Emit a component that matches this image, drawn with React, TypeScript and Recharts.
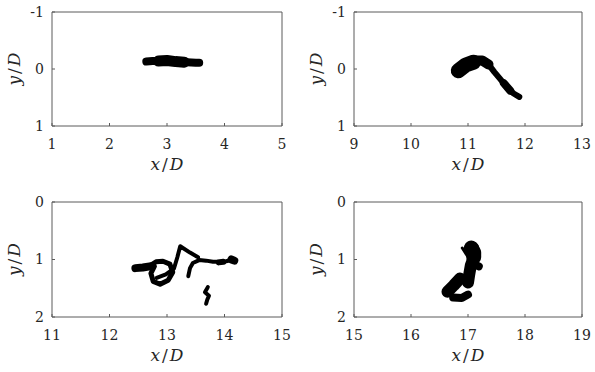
import React from "react";
import { ComposedChart, Line, XAxis, YAxis } from "recharts";

type Pt = { x: number; y: number };

// tick values
const xTicksA = [1, 2, 3, 4, 5];
const xTicksB = [9, 10, 11, 12, 13];
const xTicksC = [11, 12, 13, 14, 15];
const xTicksD = [15, 16, 17, 18, 19];
const yTicksTop = [-1, 0, 1];
const yTicksBottom = [0, 1, 2];

// panel A (x/D 1..5) - elongated blob
const aBody: Pt[] = [
  { x: 2.64, y: -0.13 }, { x: 2.75, y: -0.14 }, { x: 2.9, y: -0.14 }, { x: 3.05, y: -0.13 },
  { x: 3.2, y: -0.12 }, { x: 3.35, y: -0.12 }, { x: 3.5, y: -0.11 }, { x: 3.56, y: -0.11 },
];
const aCore: Pt[] = [
  { x: 2.85, y: -0.14 }, { x: 3.0, y: -0.15 }, { x: 3.15, y: -0.13 }, { x: 3.3, y: -0.12 },
];

// panel B (x/D 9..13) - bent streak
const bHead: Pt[] = [
  { x: 10.83, y: 0.03 }, { x: 10.96, y: -0.07 }, { x: 11.1, y: -0.12 },
];
const bNeck: Pt[] = [
  { x: 10.97, y: -0.1 }, { x: 11.1, y: -0.15 }, { x: 11.25, y: -0.15 }, { x: 11.36, y: -0.08 },
];
const bTail: Pt[] = [
  { x: 11.36, y: -0.08 }, { x: 11.46, y: 0.05 }, { x: 11.56, y: 0.17 }, { x: 11.64, y: 0.27 },
  { x: 11.72, y: 0.36 }, { x: 11.8, y: 0.43 }, { x: 11.9, y: 0.49 },
];
const bBulge: Pt[] = [
  { x: 11.63, y: 0.25 }, { x: 11.74, y: 0.38 },
];

// panel C (x/D 11..15) - tangled track
const cTail: Pt[] = [
  { x: 12.45, y: 1.15 }, { x: 12.58, y: 1.14 }, { x: 12.7, y: 1.12 },
];
const cLoop: Pt[] = [
  { x: 12.7, y: 1.11 }, { x: 12.81, y: 1.04 }, { x: 12.93, y: 1.03 }, { x: 13.05, y: 1.08 },
  { x: 13.1, y: 1.22 }, { x: 13.02, y: 1.36 }, { x: 12.88, y: 1.43 }, { x: 12.76, y: 1.38 },
  { x: 12.72, y: 1.24 }, { x: 12.78, y: 1.12 },
];
const cRise: Pt[] = [
  { x: 12.82, y: 1.32 }, { x: 12.98, y: 1.26 }, { x: 13.12, y: 1.16 }, { x: 13.18, y: 0.96 },
  { x: 13.23, y: 0.77 }, { x: 13.4, y: 0.88 }, { x: 13.54, y: 0.96 },
];
const cHook: Pt[] = [
  { x: 13.37, y: 1.29 }, { x: 13.4, y: 1.15 }, { x: 13.45, y: 1.06 }, { x: 13.56, y: 1.01 },
  { x: 13.68, y: 1.02 }, { x: 13.8, y: 1.04 }, { x: 13.92, y: 1.04 }, { x: 14.03, y: 1.03 },
  { x: 14.15, y: 1.0 },
];
const cKnots: Pt[] = [
  { x: 13.9, y: 1.05 }, { x: 13.98, y: 1.04 },
];
const cEnd: Pt[] = [
  { x: 14.12, y: 1.0 }, { x: 14.17, y: 1.02 },
];
const cCurl: Pt[] = [
  { x: 13.71, y: 1.48 }, { x: 13.66, y: 1.57 }, { x: 13.73, y: 1.63 }, { x: 13.7, y: 1.7 },
  { x: 13.68, y: 1.77 },
];

// panel D (x/D 15..19) - compact cluster
const dTop: Pt[] = [
  { x: 17.06, y: 0.8 }, { x: 17.1, y: 0.88 }, { x: 17.1, y: 0.96 },
];
const dSpine: Pt[] = [
  { x: 17.09, y: 0.8 }, { x: 17.11, y: 0.94 }, { x: 17.05, y: 1.1 }, { x: 17.02, y: 1.27 },
  { x: 17.0, y: 1.4 },
];
const dSliver: Pt[] = [
  { x: 16.9, y: 0.8 }, { x: 16.99, y: 0.94 },
];
const dBulge: Pt[] = [
  { x: 17.1, y: 1.08 }, { x: 17.19, y: 1.12 },
];
const dLeft: Pt[] = [
  { x: 16.86, y: 1.33 }, { x: 16.75, y: 1.45 }, { x: 16.64, y: 1.56 },
];
const dBottom: Pt[] = [
  { x: 16.74, y: 1.66 }, { x: 16.89, y: 1.67 }, { x: 17.0, y: 1.61 },
];

const FONT = "DejaVu Serif";
const AXIS = "#5a5a5a";
const TXT = "#262626";

const xTitle = (props: any) => {
  const vb = props.viewBox || {};
  return (
    <text x={vb.x + vb.width / 2} y={vb.y + 44} textAnchor="middle" fontFamily={FONT} fontSize={17} fill={TXT}>
      <tspan fontStyle="italic">x</tspan>
      <tspan dx={2}>/</tspan>
      <tspan dx={2} fontStyle="italic">D</tspan>
    </text>
  );
};

const yTitle = (props: any) => {
  const vb = props.viewBox || {};
  const cx = vb.x + vb.width - 32;
  const cy = vb.y + vb.height / 2;
  return (
    <text x={cx} y={cy} textAnchor="middle" transform={`rotate(-90, ${cx}, ${cy})`} fontFamily={FONT} fontSize={17} fill={TXT}>
      <tspan fontStyle="italic">y</tspan>
      <tspan dx={2}>/</tspan>
      <tspan dx={2} fontStyle="italic">D</tspan>
    </text>
  );
};

type Stroke = { data: Pt[]; w: number };

const Panel = (p: {
  left: number; top: number; width: number; padL: number; padR: number; padT: number; padB: number;
  xTicks: number[]; yTicks: number[]; strokes: Stroke[];
}) => {
  const tickStyle = { fontSize: 14, fill: TXT, fontFamily: FONT };
  const xDom = [p.xTicks[0], p.xTicks[p.xTicks.length - 1]];
  const yDom = [p.yTicks[0], p.yTicks[p.yTicks.length - 1]];
  return (
    <div style={{ position: "absolute", left: p.left, top: p.top }}>
      <ComposedChart width={p.width} height={186} margin={{ top: 0, right: 0, bottom: 0, left: 0 }}>
        <XAxis xAxisId="b" type="number" dataKey="x" domain={xDom} ticks={p.xTicks} interval={0}
          orientation="bottom" height={p.padB} tickSize={-3} tickMargin={16}
          axisLine={{ stroke: AXIS }} tickLine={{ stroke: AXIS }} tick={tickStyle}
          label={{ content: xTitle }} />
        <XAxis xAxisId="t" type="number" dataKey="x" domain={xDom} ticks={p.xTicks} interval={0}
          orientation="top" height={p.padT} tickSize={-3} tickFormatter={() => ""}
          axisLine={{ stroke: AXIS }} tickLine={{ stroke: AXIS }} />
        <YAxis yAxisId="l" type="number" dataKey="y" domain={yDom} ticks={p.yTicks} interval={0} reversed
          orientation="left" width={p.padL} tickSize={-3} tickMargin={11}
          axisLine={{ stroke: AXIS }} tickLine={{ stroke: AXIS }} tick={tickStyle}
          label={{ content: yTitle }} />
        <YAxis yAxisId="r" type="number" dataKey="y" domain={yDom} ticks={p.yTicks} interval={0} reversed
          orientation="right" width={p.padR} tickSize={-3} tickFormatter={() => ""}
          axisLine={{ stroke: AXIS }} tickLine={{ stroke: AXIS }} />
        {p.strokes.map((s, i) => (
          <Line key={i} xAxisId="b" yAxisId="l" data={s.data} dataKey="y" type="linear"
            stroke="#000" strokeWidth={s.w} strokeLinecap="round" strokeLinejoin="round"
            dot={false} activeDot={false} isAnimationActive={false} />
        ))}
      </ComposedChart>
    </div>
  );
};

export default function App() {
  return (
    <div style={{ position: "absolute", left: 0, top: 0, width: 595, height: 372, background: "#fff" }}>
      <Panel left={0} top={0} width={297} padL={52} padR={15} padT={12} padB={60}
        xTicks={xTicksA} yTicks={yTicksTop}
        strokes={[{ data: aBody, w: 8 }, { data: aCore, w: 11 }]} />
      <Panel left={297} top={0} width={298} padL={57} padR={13} padT={12} padB={60}
        xTicks={xTicksB} yTicks={yTicksTop}
        strokes={[{ data: bHead, w: 15 }, { data: bNeck, w: 10 }, { data: bTail, w: 6 }, { data: bBulge, w: 8 }]} />
      <Panel left={0} top={186} width={297} padL={52} padR={15} padT={16} padB={55}
        xTicks={xTicksC} yTicks={yTicksBottom}
        strokes={[
          { data: cTail, w: 8 }, { data: cLoop, w: 5 }, { data: cRise, w: 4 }, { data: cHook, w: 4 },
          { data: cKnots, w: 6 }, { data: cEnd, w: 8 }, { data: cCurl, w: 4 },
        ]} />
      <Panel left={297} top={186} width={298} padL={57} padR={13} padT={16} padB={55}
        xTicks={xTicksD} yTicks={yTicksBottom}
        strokes={[
          { data: dTop, w: 15 }, { data: dSpine, w: 12 }, { data: dSliver, w: 3 }, { data: dBulge, w: 8 },
          { data: dLeft, w: 12 }, { data: dBottom, w: 8 },
        ]} />
    </div>
  );
}
